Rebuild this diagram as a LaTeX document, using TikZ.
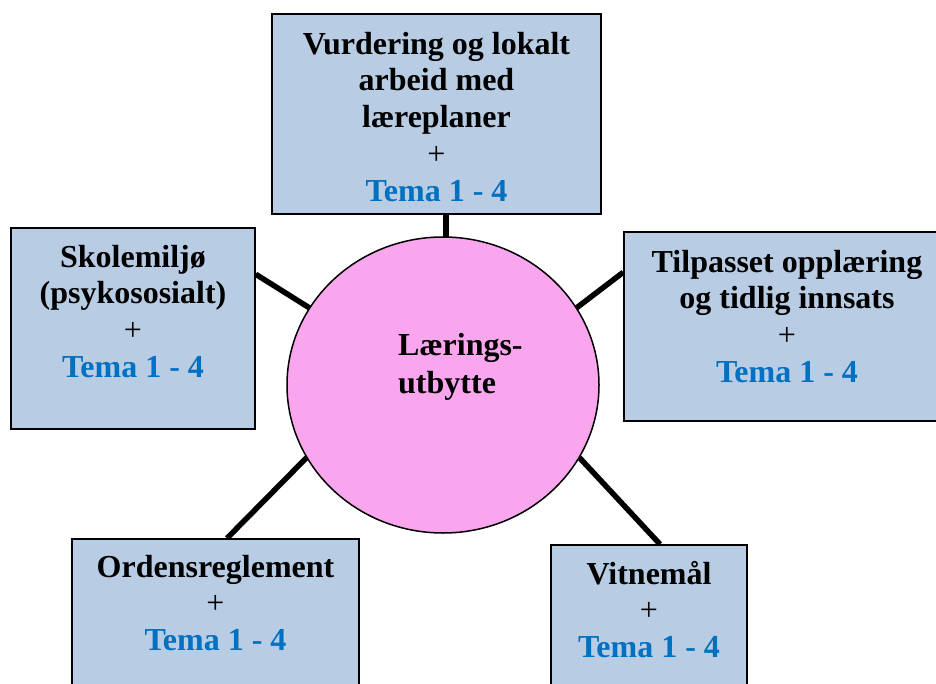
\documentclass[tikz,border=0pt]{standalone}
\usepackage{fontspec}
\setmainfont{Liberation Serif}
\usetikzlibrary{shapes.geometric}
\definecolor{boxblue}{HTML}{B8CCE4}
\definecolor{circpink}{HTML}{F9A6EF}
\definecolor{temablue}{HTML}{0070C0}
\tikzset{
  topic/.style={draw=black, line width=1.5pt, fill=boxblue, rectangle, inner sep=0pt},
  topictext/.style={anchor=base, align=center, inner sep=0pt,
    font=\fontsize{32}{36.7}\selectfont\bfseries},
  link/.style={line width=5.5pt, line cap=butt},
}
\newcommand{\tema}{\textcolor{temablue}{Tema 1 - 4}}
\newcommand{\plus}{{\mdseries +}}
\begin{document}
\begin{tikzpicture}[x=1pt, y=-1pt]
\useasboundingbox (0,0) rectangle (936,684);
\clip (0,0) rectangle (936,684);
% boxes
\node[topic, minimum width=329pt, minimum height=200pt] (top) at (436.5,114) {};
\node[topic, minimum width=244pt, minimum height=201pt] (left) at (133,328.5) {};
\node[topic, minimum width=326pt, minimum height=189pt] (right) at (787,326.5) {};
\node[topic, minimum width=287pt, minimum height=200pt] (bl) at (215.5,639) {};
\node[topic, minimum width=196pt, minimum height=200pt] (br) at (649,645) {};
% connectors
\node[ellipse, minimum width=312pt, minimum height=296pt, inner sep=0pt] (circ) at (443,385) {};
\draw[link] ([xshift=9.5pt]top.south) -- ([xshift=9.5pt]top.south |- circ.north);
\draw[link] ([yshift=-47pt]left.north east) -- (circ.150.6);
\draw[link] ([yshift=-41pt]right.north west) -- (circ.30.8);
\draw[link] ([xshift=11.5pt]bl.north) -- (circ.208);
\draw[link] ([xshift=11pt]br.north) -- (circ.332.6);
% circle
\node[ellipse, draw=black, line width=1.5pt, fill=circpink, minimum width=312pt, minimum height=296pt, inner sep=0pt] (hub) at (443,385) {};
\node[anchor=base west, align=left, inner sep=0pt, font=\fontsize{32}{38}\selectfont\bfseries] (hubtext) at (398,393) {Lærings-\\utbytte};
% texts (anchor base = baseline of the last line)
\node[topictext] (toptext) at ([yshift=-187.8pt]top.north) {Vurdering og lokalt\\arbeid med\\læreplaner\\\plus\\\tema};
\node[topictext] (lefttext) at ([yshift=-150.1pt]left.north) {Skolemiljø\\(psykososialt)\\\plus\\\tema};
\node[topictext] (righttext) at ([yshift=-151.1pt]right.north) {Tilpasset opplæring\\og tidlig innsats\\\plus\\\tema};
\node[topictext] (bltext) at ([yshift=-112.4pt]bl.north) {Ordensreglement\\\plus\\\tema};
\node[topictext] (brtext) at ([yshift=-113.4pt]br.north) {Vitnemål\\\plus\\\tema};
\end{tikzpicture}
\end{document}
